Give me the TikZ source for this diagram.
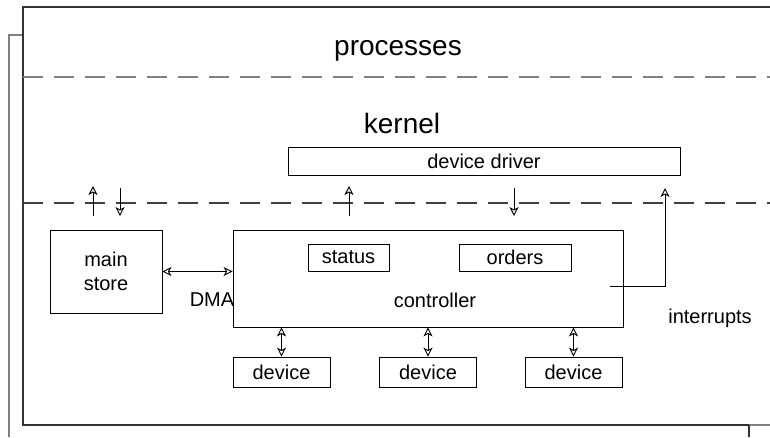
\documentclass[tikz,border=0pt]{standalone}
\usepackage{fontspec}
\setmainfont{Liberation Sans}
\usetikzlibrary{positioning,calc,arrows.meta}

\begin{document}
\begin{tikzpicture}[x=1pt,y=-1pt,
  box/.style={draw, line width=0.9pt, inner sep=0pt, font=\fontsize{20}{22}\selectfont},
  lbl/.style={font=\fontsize{20}{22}\selectfont, inner sep=0pt},
  head/.style={font=\fontsize{28}{30}\selectfont, inner sep=0pt},
  flow/.style={line width=0.9pt, -{Stealth[open,length=9pt,width=9pt,inset=2.5pt]}},
  dbl/.style={line width=0.9pt, {Stealth[open,length=9pt,width=9pt,inset=2.5pt]}-{Stealth[open,length=9pt,width=9pt,inset=2.5pt]}},
  layer/.style={line width=1.2pt, dash pattern=on 20pt off 11pt}]
\useasboundingbox (0,0) rectangle (770,437);
%% Frames
\draw[gray, line width=1.3pt] (9,437) -- (9,35) -- (23,35);
\draw[black!80, line width=1.3pt] (770,7) -- (23,7) -- (23,425) -- (749,425);
\draw[gray, line width=1.3pt] (749,425) -- (770,425);
\draw[black!80, line width=1.3pt] (749,425) -- (749,437);
%% Layer boundaries
\draw[layer, gray] (23,77) -- (770,77);
\draw[layer, black!75] (23,203) -- (770,203);
\node[head] (proc) at (398,51) {processes};
\node[head] (kern) at (402,123) {kernel};
%% Boxes
\node[box, minimum width=392pt, minimum height=28pt] (driver) at (484,161) {device driver};
\node[box, minimum width=112pt, minimum height=83pt, align=center] (store) at (106,271.5) {main\\[2pt]store};
\node[box, minimum width=390pt, minimum height=97pt] (ctrl) at (428,278.5) {};
\node[lbl] (ctrltxt) at (435,300) {controller};
\node[box, minimum width=81pt, minimum height=27pt] (status) at (348.5,257.5) {status};
\node[box, minimum width=112pt, minimum height=27pt] (orders) at (515,257.5) {orders};
\foreach \i/\x in {1/281.5,2/428,3/573.5}{
  \node[box, minimum width=97pt, minimum height=30pt] (dev\i) at (\x,372) {device};
  \draw[dbl] (dev\i.north) -- (ctrl.south -| dev\i.north);
}
%% DMA
\draw[dbl] (store.east) -- (ctrl.west |- store.east);
\node[lbl] (dma) at (212,300) {DMA};
%% Crossing the kernel boundary
\coordinate (s1) at (93,216);  \coordinate (t1) at (93,186);
\coordinate (s2) at (120,188); \coordinate (t2) at (120,216);
\coordinate (s3) at (349,216); \coordinate (t3) at (349,186);
\coordinate (s4) at (514,188); \coordinate (t4) at (514,216);
\foreach \k in {1,...,4}{
  \draw[flow] (s\k) -- (t\k);
}
%% Interrupts
\coordinate (irq) at (610,286);
\coordinate (irqtop) at (665,188);
\draw[flow] (irq) -- (irq -| irqtop) -- (irqtop);
\node[lbl] (intr) at (710,318) {interrupts};
\end{tikzpicture}
\end{document}
